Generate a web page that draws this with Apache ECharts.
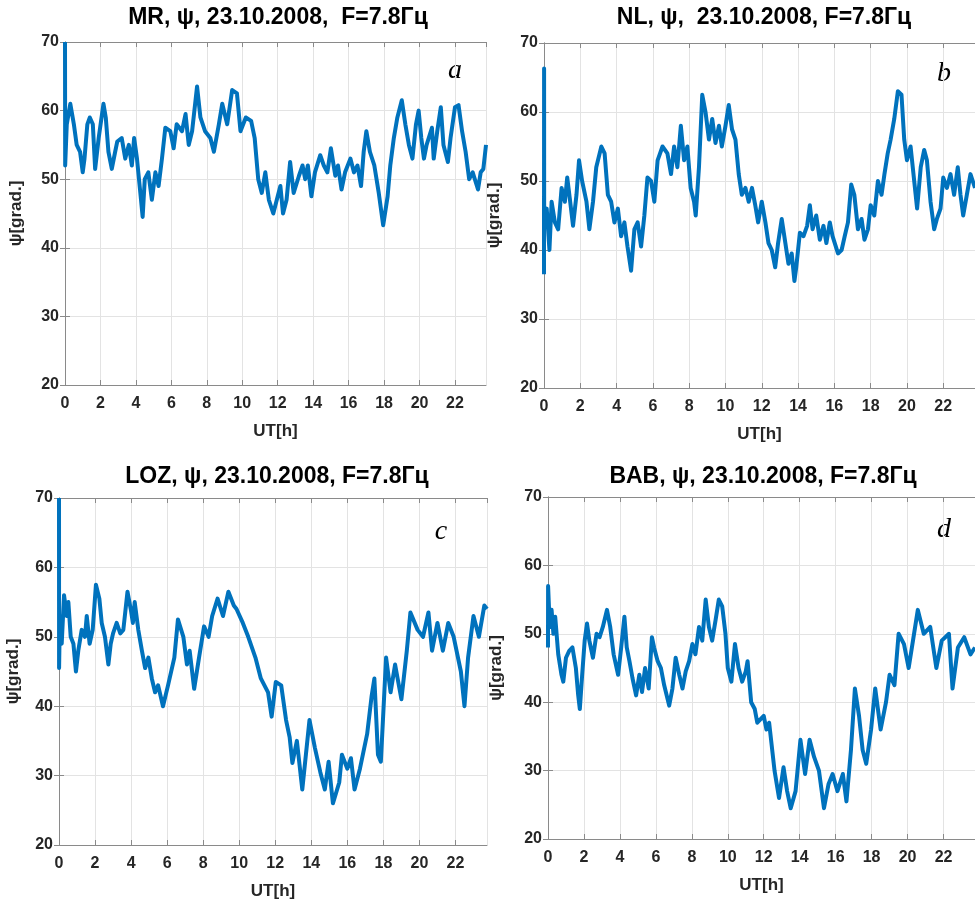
<!DOCTYPE html>
<html>
  <head>
    <meta charset="utf-8" />
    <title>psi 23.10.2008</title>
    <style>
      html,
      body {
        margin: 0;
        padding: 0;
        background: #fff;
      }
      #chart-container {
        width: 975px;
        height: 903px;
      }
    </style>
    <script src="https://cdn.jsdelivr.net/npm/echarts@6/dist/echarts.min.js"></script>
  </head>
  <body>
    <div id="chart-container"></div>

    <script>
      // ψ по станциям, [UT в часах, градусы]
      var psiMR = [[0,70],[0.01,52],[0.1,58],[0.3,61],[0.5,58],[0.66,55],[0.85,54],[1.0,51],[1.1,53],[1.26,58],[1.4,59],[1.57,58],[1.7,51.5],[1.9,56],[2.17,61],[2.3,59],[2.45,54],[2.64,51.5],[2.83,54],[2.95,55.5],[3.2,56],[3.4,53],[3.6,55],[3.77,52],[3.9,56],[4.06,53],[4.25,48],[4.38,44.5],[4.5,50],[4.7,51],[4.9,47],[5.1,51],[5.28,49],[5.47,53],[5.66,57.5],[5.94,57],[6.13,54.5],[6.3,58],[6.6,57],[6.8,59.5],[6.98,55],[7.17,57],[7.45,63.5],[7.64,59],[7.9,57],[8.2,56],[8.4,54],[8.68,58],[8.87,61],[9.15,58],[9.43,63],[9.7,62.5],[9.9,57],[10.2,59],[10.5,58.5],[10.7,56],[10.9,50],[11.1,48],[11.3,51],[11.5,47],[11.75,45],[12.0,47.5],[12.15,49],[12.3,45],[12.5,47],[12.7,52.5],[12.9,48],[13.2,50.5],[13.4,52],[13.55,50],[13.7,52],[13.9,47.5],[14.1,51],[14.4,53.5],[14.6,52],[14.8,51],[15.0,54.5],[15.25,50.5],[15.4,52],[15.6,48.5],[15.8,51],[16.1,53],[16.3,51],[16.5,52],[16.7,49],[16.85,54],[17.0,57],[17.2,54],[17.45,52],[17.7,48],[17.95,43.3],[18.2,47.5],[18.35,52],[18.55,56],[18.75,59],[19.0,61.5],[19.2,58],[19.4,55],[19.6,53],[19.8,58],[19.95,60],[20.1,56],[20.25,53],[20.4,55],[20.7,57.5],[20.8,53],[21.0,57],[21.2,60.5],[21.35,55],[21.6,52.5],[21.75,56],[22.0,60.5],[22.2,60.8],[22.4,57],[22.6,54],[22.8,50],[23.0,51],[23.3,48.5],[23.45,51],[23.6,51.5],[23.75,55]];

      var psiNL = [[0,36.5],[0.005,66.3],[0.01,44],[0.15,46],[0.3,40],[0.42,47],[0.6,44],[0.78,43],[0.97,49],[1.15,47],[1.28,50.5],[1.42,47.5],[1.6,43.5],[1.79,48],[1.93,53],[2.1,50],[2.34,47],[2.5,43],[2.7,47],[2.88,52],[3.16,55],[3.34,54],[3.52,48],[3.7,47],[3.88,44],[4.07,46],[4.25,42],[4.43,44],[4.6,40.5],[4.8,37],[4.98,43],[5.16,44],[5.35,40.5],[5.53,45],[5.7,50.5],[5.9,50],[6.08,47],[6.26,53],[6.53,55],[6.8,54],[7.0,51],[7.17,55],[7.35,52],[7.54,58],[7.72,53],[7.9,55],[8.08,49],[8.27,47],[8.36,45],[8.54,52],[8.72,62.5],[8.9,60],[9.09,56],[9.27,59],[9.45,55.5],[9.64,58],[9.8,55],[10.0,58],[10.18,61],[10.36,57.5],[10.55,56],[10.73,51],[10.9,48],[11.1,49],[11.28,47],[11.46,49],[11.64,46.5],[11.8,44],[12.0,47],[12.2,44],[12.37,41],[12.55,40],[12.74,37.5],[12.9,41],[13.1,44.5],[13.3,41],[13.47,38],[13.65,39.5],[13.8,35.5],[13.9,37.5],[14.1,42.5],[14.3,42],[14.5,43.5],[14.65,46.5],[14.8,43],[15.0,45],[15.2,41.5],[15.4,43.5],[15.56,41],[15.75,44],[15.9,42],[16.2,39.5],[16.4,40],[16.57,42],[16.75,44],[16.93,49.5],[17.1,48],[17.3,43],[17.5,44.5],[17.66,41.5],[17.85,43],[18.0,46.5],[18.2,45],[18.4,50],[18.6,48],[18.76,51],[18.94,54],[19.1,56],[19.3,59],[19.5,63],[19.7,62.5],[19.85,56],[20.0,53],[20.2,55],[20.4,50],[20.56,46],[20.76,52],[20.95,54.5],[21.1,53],[21.3,47],[21.5,43],[21.65,44.5],[21.85,46],[22.0,50.5],[22.2,49],[22.4,51],[22.6,48],[22.8,52],[22.95,48],[23.1,45],[23.3,48],[23.5,51],[23.75,49]];

      var psiLOZ = [[0,70],[0.005,45.5],[0.05,53],[0.15,49],[0.28,56],[0.43,53],[0.52,55],[0.65,50],[0.8,49],[0.94,45],[1.07,48],[1.26,51],[1.44,50],[1.54,53],[1.7,49],[1.87,51],[2.05,57.5],[2.24,55.5],[2.37,52],[2.55,50],[2.74,46],[2.87,49],[3.0,50.5],[3.2,52],[3.4,50.5],[3.57,51],[3.8,56.5],[3.98,54],[4.1,52],[4.2,55],[4.4,51],[4.6,48],[4.78,45.5],[4.96,47],[5.15,44],[5.33,42],[5.5,43],[5.77,40],[6.05,43],[6.4,47],[6.6,52.5],[6.9,50],[7.1,46],[7.25,48],[7.5,42.5],[7.77,47],[8.05,51.5],[8.3,50],[8.5,53],[8.8,55.5],[9.1,53],[9.4,56.5],[9.7,54.5],[9.85,54],[10.2,52],[10.5,50],[10.9,47],[11.2,44],[11.6,42],[11.8,38.5],[12.03,43.5],[12.33,43],[12.6,38],[12.8,35.5],[12.95,31.8],[13.2,35],[13.5,28],[13.7,33],[13.9,38],[14.2,34],[14.5,30.5],[14.75,28],[14.96,32],[15.2,26],[15.55,29],[15.7,33],[16.0,31],[16.2,32.5],[16.4,28],[16.7,31],[17.1,36],[17.35,41.5],[17.5,44],[17.7,33],[17.86,32],[18.15,47],[18.4,42],[18.65,46],[19.0,41],[19.3,48],[19.5,53.5],[19.9,51],[20.2,50],[20.5,53.5],[20.7,48],[21.0,52],[21.3,48],[21.6,52],[21.9,50],[22.3,45],[22.5,40],[22.7,47],[23.0,53],[23.3,50],[23.6,54.5],[23.75,54]];

      var psiBAB = [[0,48],[0.005,57],[0.1,51],[0.2,53.5],[0.3,50],[0.4,52.5],[0.57,47],[0.75,44],[0.85,43],[1.0,46.5],[1.18,47.5],[1.36,48],[1.55,45],[1.68,41],[1.77,39],[1.9,44],[2.04,49],[2.17,51.5],[2.3,49],[2.5,46.5],[2.7,50],[2.87,49.5],[3.05,51],[3.28,53.5],[3.46,51],[3.65,47],[3.9,44],[4.07,48],[4.25,52.5],[4.38,48],[4.53,46],[4.7,43.5],[4.9,41],[5.08,44],[5.23,41.5],[5.4,45],[5.6,42],[5.78,49.5],[5.9,48],[6.1,46],[6.28,45],[6.46,42.5],[6.74,39.5],[6.92,42],[7.1,46.5],[7.3,44],[7.48,42],[7.66,44.5],[7.85,46],[8.03,48.5],[8.2,47],[8.4,51],[8.58,49],[8.77,55],[8.95,51],[9.13,49],[9.32,52],[9.5,55],[9.69,54],[9.87,50],[10.0,45],[10.2,43],[10.4,48.5],[10.6,45],[10.8,43],[11.0,44.5],[11.1,46],[11.3,40],[11.5,39],[11.64,37],[12.0,38],[12.15,36],[12.3,37],[12.6,30],[12.85,26],[13.1,30.5],[13.3,27],[13.5,24.5],[13.77,27],[14.04,34.5],[14.3,29.5],[14.55,34.5],[14.8,32],[15.07,30],[15.35,24.5],[15.6,28],[15.83,29.5],[16.1,27],[16.4,29.5],[16.6,25.5],[16.85,33],[17.07,42],[17.3,38],[17.5,33],[17.7,31],[17.97,36],[18.2,42],[18.5,36],[18.8,40],[19.0,44],[19.27,42.5],[19.5,50],[19.8,48.5],[20.06,45],[20.3,49],[20.57,53.5],[20.9,50],[21.26,51],[21.6,45],[21.9,49],[22.3,50],[22.5,42],[22.8,48],[23.15,49.5],[23.5,47],[23.75,48]];

      var titles = [
        "MR, ψ, 23.10.2008,  F=7.8Гц",
        "NL, ψ,  23.10.2008, F=7.8Гц",
        "LOZ, ψ, 23.10.2008, F=7.8Гц",
        "BAB, ψ, 23.10.2008, F=7.8Гц",
      ];
      var letters = ["a", "b", "c", "d"];
      var allSeries = [psiMR, psiNL, psiLOZ, psiBAB];

      // положение панелей в пикселях
      var grids = [
        { left: 65, top: 42, width: 421, height: 343 },
        { left: 544, top: 43, width: 434, height: 345 },
        { left: 59, top: 498, width: 428, height: 347 },
        { left: 548, top: 497, width: 430, height: 342 },
      ];
      var titlePos = [[278, 18], [764, 18], [277, 477], [763, 477]];
      var letterPos = [[455, 71], [944, 74], [441, 532], [944, 530]];
      var yNameGap = [40, 41, 37, 43];

      var FONT = "Liberation Sans, Arial, sans-serif";
      var boxColor = "#8a8a8a";
      var gridColor = "#e3e3e3";
      var textColor = "#262626";

      var xAxes = [];
      var yAxes = [];
      var series = [];
      var graphics = [];

      grids.forEach(function (g, i) {
        xAxes.push({
          type: "value",
          gridIndex: i,
          min: 0,
          max: 23.75,
          interval: 2,
          name: "UT[h]",
          nameLocation: "middle",
          nameGap: 38,
          nameTextStyle: { color: textColor, fontWeight: "bold", fontSize: 17, fontFamily: FONT },
          axisLine: { show: true, lineStyle: { color: boxColor } },
          axisTick: { show: true, inside: true, length: 5, lineStyle: { color: boxColor } },
          axisLabel: {
            color: textColor,
            fontWeight: "bold",
            fontSize: 16,
            fontFamily: FONT,
            margin: 11,
            showMaxLabel: false,
            formatter: function (v) {
              return v % 2 === 0 ? String(v) : "";
            },
          },
          splitLine: { show: true, lineStyle: { color: gridColor } },
        });
        // верхняя граница рамки
        xAxes.push({
          type: "value",
          gridIndex: i,
          position: "top",
          min: 0,
          max: 23.75,
          interval: 2,
          axisLine: { show: true, lineStyle: { color: boxColor } },
          axisTick: { show: true, inside: true, length: 5, lineStyle: { color: boxColor } },
          axisLabel: { show: false },
          splitLine: { show: false },
        });
        yAxes.push({
          type: "value",
          gridIndex: i,
          min: 20,
          max: 70,
          interval: 10,
          name: "ψ[grad.]",
          nameLocation: "middle",
          nameGap: yNameGap[i],
          nameTextStyle: { color: textColor, fontWeight: "bold", fontSize: 17, fontFamily: FONT },
          axisLine: { show: true, lineStyle: { color: boxColor } },
          axisTick: { show: true, inside: true, length: 5, lineStyle: { color: boxColor } },
          axisLabel: { color: textColor, fontWeight: "bold", fontSize: 16, fontFamily: FONT, margin: 6 },
          splitLine: { show: true, lineStyle: { color: gridColor } },
        });
        // правая граница рамки
        yAxes.push({
          type: "value",
          gridIndex: i,
          position: "right",
          min: 20,
          max: 70,
          interval: 10,
          axisLine: { show: true, lineStyle: { color: boxColor } },
          axisTick: { show: true, inside: true, length: 5, lineStyle: { color: boxColor } },
          axisLabel: { show: false },
          splitLine: { show: false },
        });
        series.push({
          type: "line",
          xAxisIndex: i * 2,
          yAxisIndex: i * 2,
          data: allSeries[i],
          showSymbol: false,
          symbol: "none",
          lineStyle: { color: "#0072BD", width: 4, join: "round" },
          animation: false,
        });
        graphics.push({
          type: "text",
          x: titlePos[i][0],
          y: titlePos[i][1],
          style: {
            text: titles[i],
            font: "bold 23px " + FONT,
            fill: "#000",
            textAlign: "center",
            textVerticalAlign: "middle",
          },
        });
        graphics.push({
          type: "text",
          x: letterPos[i][0],
          y: letterPos[i][1],
          style: {
            text: letters[i],
            font: "italic 28px 'Liberation Serif', 'Times New Roman', serif",
            fill: "#000",
            textAlign: "center",
            textVerticalAlign: "middle",
          },
        });
      });

      var myChart = echarts.init(document.getElementById("chart-container"));
      myChart.setOption({
        animation: false,
        backgroundColor: "#fff",
        grid: grids,
        xAxis: xAxes,
        yAxis: yAxes,
        series: series,
        graphic: graphics,
      });
    </script>
  </body>
</html>
